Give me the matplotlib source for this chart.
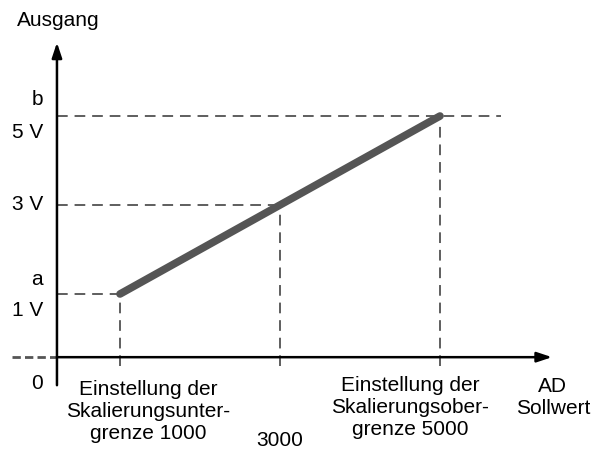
import matplotlib.pyplot as plt
import matplotlib as mpl

# Kennlinie: AD-Sollwert -> Ausgang [V]
sollwert = [1000, 3000, 5000]
ausgang = [1, 3, 5]
x_labels = ["Einstellung der\nSkalierungsunter-\ngrenze 1000", "3000",
            "Einstellung der\nSkalierungsober-\ngrenze 5000"]

mpl.rcParams['font.family'] = ['Liberation Sans', 'DejaVu Sans']

fig = plt.figure(figsize=(5.98, 4.5), dpi=100)
ax = fig.add_axes([0, 0, 1, 1])
ax.set_xlim(-500, 6975)
ax.set_ylim(-2.506, 7.607)
ax.axis('off')

x0 = 212      # where the y axis sits (schematic)
y0 = -0.42    # where the x axis sits (schematic)
fs = 15
lx = 37       # right edge of the y labels

# axes with arrows
ax.annotate('', xy=(x0, 6.65), xytext=(x0, -1.05),
            arrowprops=dict(arrowstyle='-|>,head_length=0.9,head_width=0.3',
                            color='black', lw=1.8, shrinkA=0, shrinkB=0))
ax.annotate('', xy=(6400, y0), xytext=(x0, y0),
            arrowprops=dict(arrowstyle='-|>,head_length=0.9,head_width=0.3',
                            color='black', lw=1.8, shrinkA=0, shrinkB=0))
ax.plot([-350, x0], [y0, y0], color='#555555', lw=2, ls=(0, (3, 1.5)))

# dashed helper lines
for i, (xv, yv) in enumerate(zip(sollwert, ausgang)):
    x_end = xv if i < 2 else 5760
    ax.plot([x0, x_end], [yv, yv], color='#333333', lw=1.1, ls=(0, (7, 4.5)))
    ax.plot([xv, xv], [y0 - 0.2, yv], color='#333333', lw=1.1, ls=(0, (7, 4.5)))

# characteristic line
ax.plot(sollwert, ausgang, color='#555555', lw=5.5, solid_capstyle='round')

# labels y
ax.text(lx, 1.33, "a", ha='right', va='center', fontsize=fs)
ax.text(lx, 0.64, "1 V", ha='right', va='center', fontsize=fs)
ax.text(lx, 3.0, "3 V", ha='right', va='center', fontsize=fs)
ax.text(lx, 5.38, "b", ha='right', va='center', fontsize=fs)
ax.text(lx, 4.62, "5 V", ha='right', va='center', fontsize=fs)
ax.text(lx, -1.02, "0", ha='right', va='center', fontsize=fs)
ax.text(225, 7.15, "Ausgang", ha='center', va='center', fontsize=fs)

# labels x
ax.text(1350, -1.63, x_labels[0], ha='center', va='center', fontsize=fs,
        linespacing=1.2)
ax.text(sollwert[1], -2.30, x_labels[1], ha='center', va='center', fontsize=fs)
ax.text(4625, -1.54, x_labels[2], ha='center', va='center', fontsize=fs,
        linespacing=1.2)
ax.text(6410, -1.33, "AD\nSollwert", ha='center', va='center', fontsize=fs,
        linespacing=1.2)

plt.savefig("out.png", dpi=100)
